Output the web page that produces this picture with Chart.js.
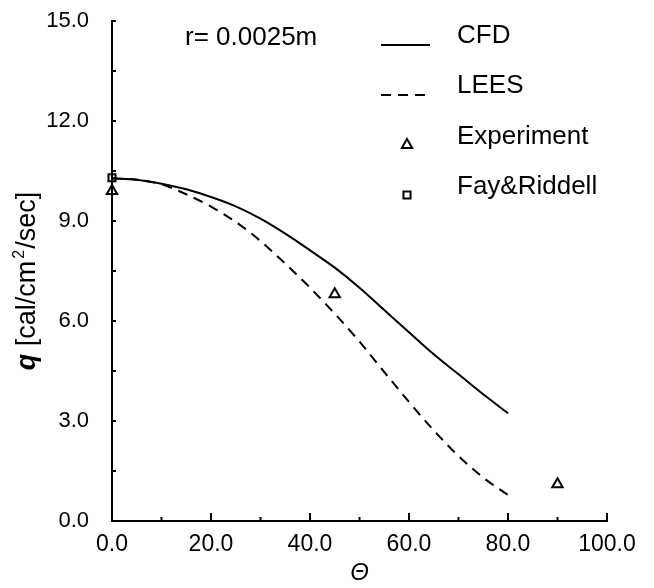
<!DOCTYPE html>
<html>
<head>
<meta charset="utf-8">
<script src="https://cdn.jsdelivr.net/npm/chart.js@4/dist/chart.umd.min.js"></script>
<style>
  html, body { margin: 0; padding: 0; background: #fff; }
  #wrap { width: 654px; height: 588px; position: relative; }
</style>
</head>
<body>
<div id="wrap"><canvas id="chart"></canvas></div>
<script>
// angle theta [deg] and heat flux q [cal/cm2/sec]
const thetaCurve = [0, 5, 10, 15, 20, 25, 30, 35, 40, 45, 50, 55, 60, 65, 70, 75, 80];
const qCfd = [10.28, 10.24, 10.12, 9.95, 9.72, 9.44, 9.07, 8.62, 8.12, 7.6, 7.0, 6.33, 5.66, 5.0, 4.4, 3.8, 3.23];
const qLees = [10.28, 10.24, 10.1, 9.8, 9.43, 8.97, 8.4, 7.72, 7.0, 6.22, 5.38, 4.47, 3.57, 2.72, 1.95, 1.3, 0.78];
const thetaExp = [0, 45, 90];
const qExp = [9.9, 6.8, 1.1];
const thetaFay = [0];
const qFay = [10.3];
const xTicks = [0, 20, 40, 60, 80, 100];
const yTicks = [0, 3, 6, 9, 12, 15];

const FONT = 'Liberation Sans, Arial, Helvetica, sans-serif';
const toXY = (xs, ys) => xs.map((x, i) => ({ x, y: ys[i] }));

// ticks point into the plot, so they are drawn here instead of by the grid
const inwardTicks = {
  id: 'inwardTicks',
  afterDraw(chart) {
    const { ctx, scales: { x, y } } = chart;
    ctx.save();
    ctx.strokeStyle = '#000';
    ctx.lineWidth = 2;
    for (let v = 0; v <= 100; v += 10) {
      const px = x.getPixelForValue(v);
      const len = v % 20 === 0 ? 8 : 4;
      ctx.beginPath();
      ctx.moveTo(px, x.top);
      ctx.lineTo(px, x.top - len);
      ctx.stroke();
    }
    for (let i = 0; i <= 10; i++) {
      const py = y.getPixelForValue(i * 1.5);
      ctx.beginPath();
      ctx.moveTo(y.right, py);
      ctx.lineTo(y.right + 4, py);
      ctx.stroke();
    }
    ctx.restore();
  }
};

const sideText = {
  id: 'sideText',
  afterDraw(chart) {
    const { ctx, chartArea } = chart;
    ctx.save();
    ctx.fillStyle = '#000';
    ctx.textBaseline = 'middle';
    ctx.font = `26px ${FONT}`;
    ctx.fillText('r= 0.0025m', 185, 38);

    // y axis title with bold italic q and superscript 2
    const cy = (chartArea.top + chartArea.bottom) / 2 + 10;
    ctx.translate(28, cy);
    ctx.rotate(-Math.PI / 2);
    const parts = [
      { t: 'q', f: `italic bold 27px ${FONT}`, dy: 0 },
      { t: ' [cal/cm', f: `27px ${FONT}`, dy: 0 },
      { t: '2', f: `16px ${FONT}`, dy: -8 },
      { t: '/sec]', f: `27px ${FONT}`, dy: 0 }
    ];
    let w = 0;
    parts.forEach((p) => { ctx.font = p.f; w += ctx.measureText(p.t).width + (p.t === '2' ? 3 : 0); });
    let xx = -w / 2;
    parts.forEach((p) => {
      ctx.font = p.f;
      ctx.fillText(p.t, xx + (p.t === '2' ? 2 : 0), p.dy);
      xx += ctx.measureText(p.t).width + (p.t === '2' ? 3 : 0);
    });
    ctx.restore();

    // legend
    ctx.save();
    ctx.strokeStyle = '#000';
    ctx.textBaseline = 'middle';
    const ds = chart.data.datasets;
    const rows = [36, 86, 137, 187];
    ds.forEach((d, i) => {
      ctx.font = `26px ${FONT}`;
      ctx.fillStyle = '#000';
      ctx.fillText(d.label, 457, rows[i]);
      if (d.showLine) {
        ctx.lineWidth = d.borderWidth;
        ctx.setLineDash(d.borderDash || []);
        ctx.beginPath();
        ctx.moveTo(381, rows[i] + 9);
        ctx.lineTo(430, rows[i] + 9);
        ctx.stroke();
        ctx.setLineDash([]);
      } else {
        ctx.lineWidth = d.borderWidth;
        ctx.fillStyle = 'rgba(0,0,0,0)';
        Chart.helpers.drawPoint(ctx, {
          pointStyle: d.pointStyle,
          radius: d.pointRadius,
          borderWidth: d.borderWidth,
          rotation: 0
        }, 407, rows[i] + 8);
      }
    });
    ctx.restore();
  }
};

new Chart(document.getElementById('chart'), {
  type: 'scatter',
  data: {
    datasets: [
      {
        label: 'CFD',
        data: toXY(thetaCurve, qCfd),
        showLine: true,
        borderColor: '#000',
        borderWidth: 2,
        pointRadius: 0,
        cubicInterpolationMode: 'monotone'
      },
      {
        label: 'LEES',
        data: toXY(thetaCurve, qLees),
        showLine: true,
        borderColor: '#000',
        borderWidth: 2,
        borderDash: [10, 7],
        pointRadius: 0,
        cubicInterpolationMode: 'monotone'
      },
      {
        label: 'Experiment',
        data: toXY(thetaExp, qExp),
        showLine: false,
        pointStyle: 'triangle',
        pointRadius: 6,
        borderWidth: 2,
        borderColor: '#000',
        backgroundColor: 'rgba(0,0,0,0)'
      },
      {
        label: 'Fay&Riddell',
        data: toXY(thetaFay, qFay),
        showLine: false,
        pointStyle: 'rect',
        pointRadius: 5,
        borderWidth: 2,
        borderColor: '#000',
        backgroundColor: 'rgba(0,0,0,0)'
      }
    ]
  },
  options: {
    responsive: true,
    maintainAspectRatio: false,
    animation: false,
    clip: false,
    layout: { padding: { left: 0, top: 21, right: 47, bottom: 0 } },
    plugins: { legend: { display: false }, tooltip: { enabled: false } },
    scales: {
      x: {
        type: 'linear',
        min: 0,
        max: 100,
        afterBuildTicks: (s) => { s.ticks = xTicks.map((v) => ({ value: v })); },
        afterFit: (s) => { s.height = 67; s.paddingLeft = 0; s.paddingRight = 0; },
        ticks: {
          color: '#000',
          padding: 2,
          maxRotation: 0,
          font: { family: FONT, size: 23 },
          callback: (v) => Number(v).toFixed(1)
        },
        grid: { display: false },
        border: { display: true, color: '#000', width: 2 },
        title: {
          display: true,
          text: 'Θ',
          color: '#000',
          padding: { top: 0, bottom: 0 },
          font: { family: FONT, size: 24, style: 'italic' }
        }
      },
      y: {
        type: 'linear',
        min: 0,
        max: 15,
        afterBuildTicks: (s) => { s.ticks = yTicks.map((v) => ({ value: v })); },
        afterFit: (s) => { s.width = 112; s.paddingTop = 0; s.paddingBottom = 0; },
        ticks: {
          color: '#000',
          padding: 15,
          font: { family: FONT, size: 22 },
          callback: (v) => Number(v).toFixed(1)
        },
        grid: { display: false },
        border: { display: true, color: '#000', width: 2 }
      }
    }
  },
  plugins: [inwardTicks, sideText]
});
</script>
</body>
</html>
